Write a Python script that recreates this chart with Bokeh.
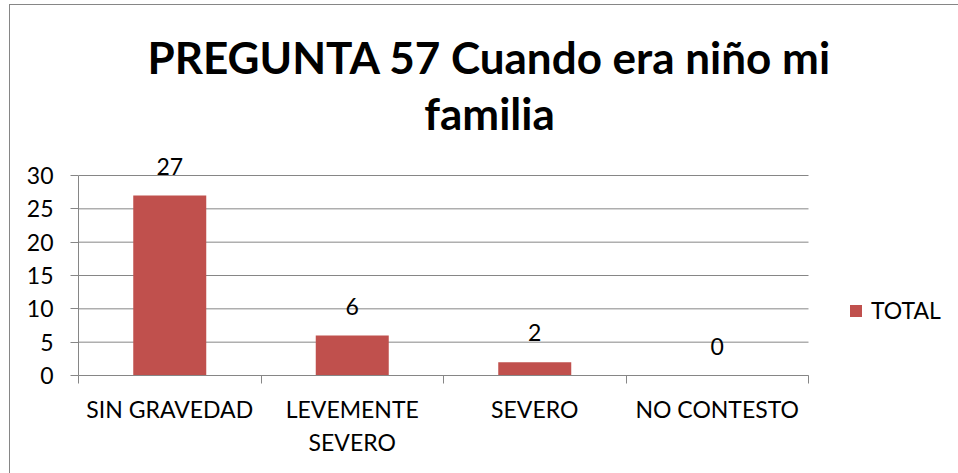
from bokeh.plotting import figure
from bokeh.models import (Range1d, FixedTicker, LabelSet, Label, Legend, LegendItem,
                          ColumnDataSource, CustomJSTickFormatter)
from bokeh.core.properties import value
from bokeh.embed import file_html
from bokeh.resources import INLINE

# ---- data ----
title_lines = ["PREGUNTA 57 Cuando era niño mi", "familia"]
categories = ["SIN GRAVEDAD", "LEVEMENTE SEVERO", "SEVERO", "NO CONTESTO"]
category_labels = ["SIN GRAVEDAD", "LEVEMENTE\nSEVERO", "SEVERO", "NO CONTESTO"]
values = [27, 6, 2, 0]
series_name = "TOTAL"
y_ticks = [0, 5, 10, 15, 20, 25, 30]

# ---- style / geometry ----
BAR = "#C0504D"
GRID = "#868686"
FONT = "Lato"
FS = "23px"
W, H = 958, 473
LEFT, BOTTOM = 78, 98          # space for the axes
PLOT_W, PLOT_H = 730, 200      # size of the value area inside the (larger) frame

n = len(categories)
centers = [i + 0.5 for i in range(n)]
bounds = list(range(n + 1))
y_max = max(y_ticks)
frame_w, frame_h = W - LEFT, H - BOTTOM
x_end = n * frame_w / PLOT_W
y_top = y_max * frame_h / PLOT_H

src = ColumnDataSource(dict(x=centers, top=values, label=[str(v) for v in values]))

p = figure(width=W, height=H, x_range=Range1d(0, x_end), y_range=Range1d(0, y_top),
           output_backend="svg", toolbar_location=None,
           min_border_left=LEFT, min_border_right=0, min_border_top=0, min_border_bottom=BOTTOM)
p.outline_line_color = None
p.background_fill_color = None
p.border_fill_color = None
p.styles = {
    "background": ("linear-gradient(#868686,#868686) 9px 4px / 1px 100% no-repeat, "
                   "linear-gradient(#868686,#868686) 9px 4px / 100% 1px no-repeat, white"),
}

# horizontal gridlines over the value area only
p.segment(x0=[0] * len(y_ticks), x1=[n] * len(y_ticks), y0=y_ticks, y1=y_ticks,
          line_color=GRID, line_width=1)
p.xgrid.visible = False
p.ygrid.visible = False

bars = p.vbar(x="x", top="top", bottom=0, width=0.4, source=src,
              fill_color=BAR, line_color=None)

# y axis
p.yaxis.ticker = FixedTicker(ticks=y_ticks)
p.yaxis.bounds = (0, y_max)
p.yaxis.major_tick_in = 0
p.yaxis.major_tick_out = 8
p.yaxis.minor_tick_line_color = None
p.yaxis.axis_line_color = GRID
p.yaxis.major_tick_line_color = GRID
p.yaxis.major_label_text_font = FONT
p.yaxis.major_label_text_font_size = FS
p.yaxis.major_label_text_color = "black"
p.yaxis.major_label_standoff = 17

# x axis
p.xaxis.ticker = FixedTicker(ticks=centers, minor_ticks=bounds)
p.xaxis.bounds = (0, n)
p.xaxis.major_tick_line_color = None
p.xaxis.major_tick_in = 0
p.xaxis.major_tick_out = 0
p.xaxis.minor_tick_in = 0
p.xaxis.minor_tick_out = 8
p.xaxis.minor_tick_line_color = GRID
p.xaxis.axis_line_color = GRID
p.xaxis.formatter = CustomJSTickFormatter(args=dict(labels=category_labels),
                                          code="return labels[Math.floor(tick)];")
p.xaxis.major_label_text_font = FONT
p.xaxis.major_label_text_font_size = FS
p.xaxis.major_label_text_color = "black"
p.xaxis.major_label_standoff = 11

# data labels
p.add_layout(LabelSet(x="x", y="top", text="label", source=src, y_offset=21,
                      text_align="center", text_baseline="alphabetic",
                      text_font=value(FONT), text_font_size=value(FS), text_color="black"))

# title (two lines), screen offsets from the frame's bottom-left
for txt, ty in zip(title_lines, [319, 263]):
    p.add_layout(Label(x=411, y=ty, x_units="screen", y_units="screen", text=txt,
                       text_align="center", text_baseline="alphabetic", text_font=FONT,
                       text_font_style="bold", text_font_size="44px", text_color="black"))

# legend
legend = Legend(items=[LegendItem(label=series_name, renderers=[bars])], location=(770, 51),
                padding=0, margin=0, border_line_color=None, background_fill_alpha=0,
                glyph_width=15, glyph_height=15, label_standoff=8,
                label_text_font=FONT, label_text_font_size=FS, label_text_color="black")
p.add_layout(legend)

open("out.html", "w").write(file_html(p, INLINE))
